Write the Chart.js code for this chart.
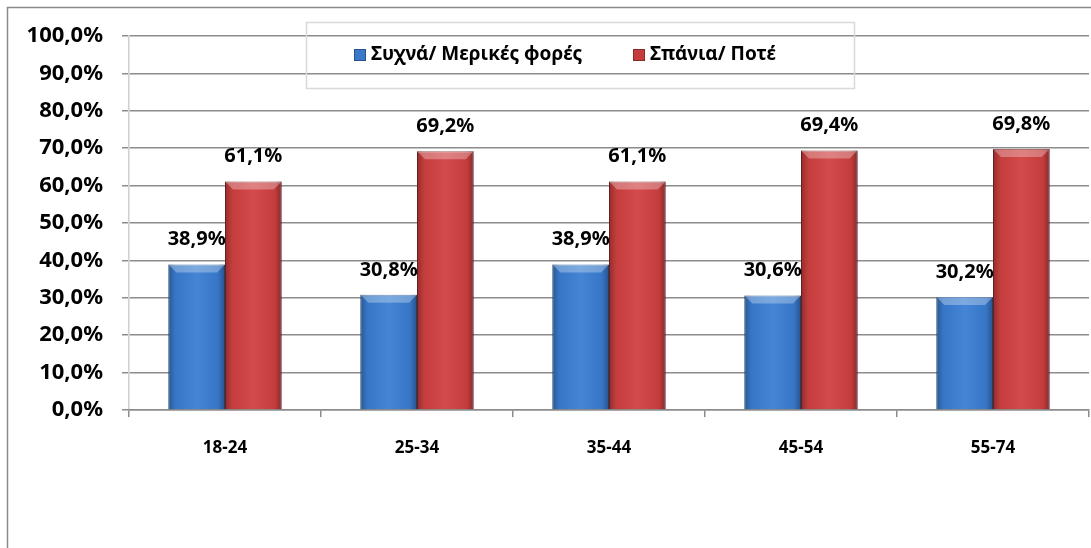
<!DOCTYPE html>
<html>
<head>
<meta charset="utf-8">
<script src="https://cdn.jsdelivr.net/npm/chart.js@4/dist/chart.umd.min.js"></script>
<style>
    html, body { margin: 0; padding: 0; background: #fff; }
    #wrap { width: 1091px; height: 548px; position: relative; }
</style>
</head>
<body>
<div id="wrap"><canvas id="ageChart"></canvas></div>
<script>
// Age groups and shares (%)
const ageGroups = ['18-24', '25-34', '35-44', '45-54', '55-74'];
const oftenValues = [38.9, 30.8, 38.9, 30.6, 30.2];
const rarelyValues = [61.1, 69.2, 61.1, 69.4, 69.8];
const seriesNames = ['Συχνά/ Μερικές φορές', 'Σπάνια/ Ποτέ'];

const FONT = '"Noto Sans", "Open Sans", sans-serif';
const fmt = v => v.toFixed(1).replace('.', ',') + '%';

// frame around the whole chart (left + top visible)
const framePlugin = {
    id: 'frame',
    beforeDraw(chart) {
        const ctx = chart.ctx;
        ctx.save();
        ctx.strokeStyle = '#8a8a8a';
        ctx.lineWidth = 1.5;
        ctx.beginPath();
        ctx.moveTo(7.5, 560);
        ctx.lineTo(7.5, 7.5);
        ctx.lineTo(1100, 7.5);
        ctx.stroke();
        ctx.restore();
    }
};

// bevel look on top of the bars drawn by Chart.js
const bevelPlugin = {
    id: 'bevel',
    afterDatasetsDraw(chart) {
        const ctx = chart.ctx;
        chart.data.datasets.forEach((ds, di) => {
            const meta = chart.getDatasetMeta(di);
            meta.data.forEach(bar => {
                const l = bar.x - bar.width / 2, r = bar.x + bar.width / 2;
                const t = bar.y, b = bar.base;
                ctx.save();
                const g = ctx.createLinearGradient(l, 0, r, 0);
                g.addColorStop(0, 'rgba(0,0,0,0.30)');
                g.addColorStop(0.12, 'rgba(0,0,0,0.06)');
                g.addColorStop(0.5, 'rgba(255,255,255,0.06)');
                g.addColorStop(0.88, 'rgba(0,0,0,0.06)');
                g.addColorStop(1, 'rgba(0,0,0,0.35)');
                ctx.fillStyle = g;
                ctx.fillRect(l, t, r - l, b - t);
                // top bevel
                const bv = 8;
                ctx.beginPath();
                ctx.moveTo(l, t);
                ctx.lineTo(r, t);
                ctx.lineTo(r - bv, t + bv);
                ctx.lineTo(l + bv, t + bv);
                ctx.closePath();
                ctx.fillStyle = 'rgba(255,255,255,0.3)';
                ctx.fill();
                ctx.restore();
            });
        });
    }
};

// value labels above bars
const valueLabels = {
    id: 'valueLabels',
    afterDatasetsDraw(chart) {
        const ctx = chart.ctx;
        ctx.save();
        ctx.font = 'bold 20px ' + FONT;
        ctx.fillStyle = '#000';
        ctx.textAlign = 'center';
        ctx.textBaseline = 'middle';
        chart.data.datasets.forEach((ds, di) => {
            chart.getDatasetMeta(di).data.forEach((bar, i) => {
                ctx.fillText(fmt(ds.data[i]), bar.x, bar.y - 25);
            });
        });
        ctx.restore();
    }
};

// legend in a thin box over the top gridlines
const boxLegend = {
    id: 'boxLegend',
    afterDraw(chart) {
        const ctx = chart.ctx;
        ctx.save();
        ctx.strokeStyle = '#d9d9d9';
        ctx.lineWidth = 1.5;
        ctx.strokeRect(306.5, 22.5, 548, 66);
        ctx.font = 'bold 19px ' + FONT;
        ctx.textBaseline = 'middle';
        const items = [
            { x: 354, color: '#3a78c9' },
            { x: 633, color: '#c43c3c' }
        ];
        items.forEach((it, i) => {
            ctx.fillStyle = it.color;
            ctx.fillRect(it.x, 49, 12, 12);
            ctx.strokeStyle = 'rgba(0,0,0,0.3)';
            ctx.lineWidth = 1;
            ctx.strokeRect(it.x + 0.5, 49.5, 11, 11);
            ctx.fillStyle = '#000';
            ctx.fillText(seriesNames[i], it.x + 17, 55);
        });
        ctx.restore();
    }
};

new Chart(document.getElementById('ageChart'), {
    type: 'bar',
    data: {
        labels: ageGroups,
        datasets: [
            {
                label: seriesNames[0],
                data: oftenValues,
                backgroundColor: '#3a7dd2',
                borderColor: '#2c5f9e',
                borderWidth: 1,
                barPercentage: 1,
                categoryPercentage: 0.59
            },
            {
                label: seriesNames[1],
                data: rarelyValues,
                backgroundColor: '#d04040',
                borderColor: '#8f2a2a',
                borderWidth: 1,
                barPercentage: 1,
                categoryPercentage: 0.59
            }
        ]
    },
    options: {
        responsive: true,
        maintainAspectRatio: false,
        animation: false,
        layout: { padding: { left: 0, right: 2, top: 36, bottom: 18 } },
        plugins: {
            legend: { display: false },
            tooltip: { enabled: false }
        },
        scales: {
            y: {
                min: 0,
                max: 100,
                afterFit: s => { s.width = 129; },
                ticks: {
                    stepSize: 10,
                    padding: 19,
                    color: '#000',
                    font: { family: FONT, size: 22, weight: 'bold' },
                    callback: v => fmt(v)
                },
                grid: { color: '#8c8c8c', lineWidth: 1.5, tickLength: 7 },
                border: { color: '#d0d0d0', width: 1.5 }
            },
            x: {
                afterFit: s => { s.height = 120; },
                ticks: {
                    padding: 21,
                    color: '#000',
                    font: { family: FONT, size: 17, weight: 'bold' }
                },
                grid: { drawOnChartArea: false, color: '#8c8c8c', lineWidth: 1.5, tickLength: 7 },
                border: { color: '#8c8c8c', width: 1.5 }
            }
        }
    },
    plugins: [framePlugin, bevelPlugin, valueLabels, boxLegend]
});
</script>
</body>
</html>
